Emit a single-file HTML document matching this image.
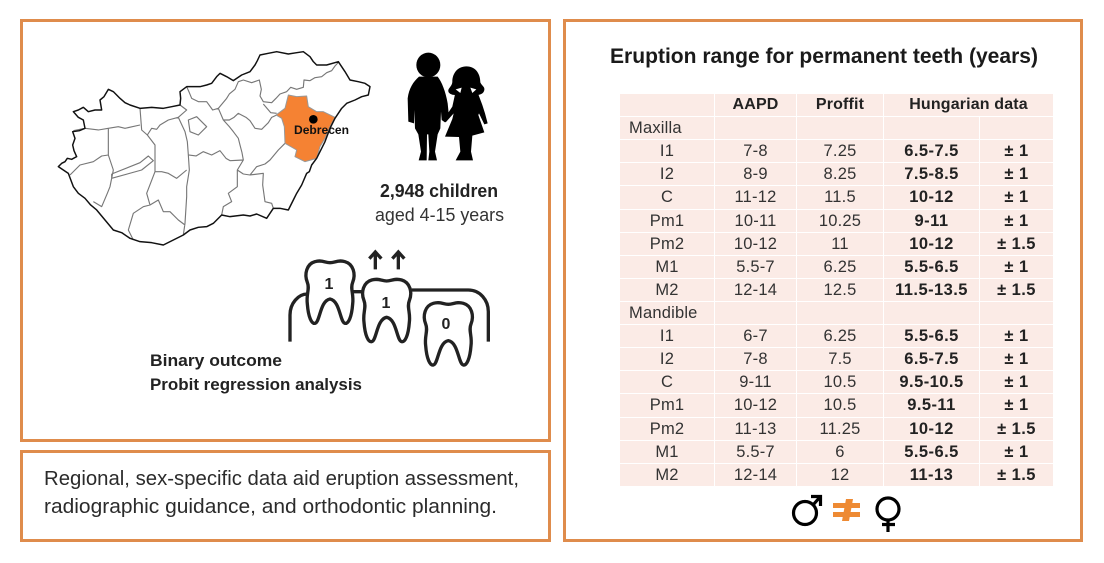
<!DOCTYPE html>
<html lang="en">
<head>
<meta charset="utf-8">
<title>Eruption range for permanent teeth</title>
<style>
html,body{margin:0;padding:0;background:#fff;}
body{width:1104px;height:563px;position:relative;overflow:hidden;font-family:"Liberation Sans",sans-serif;color:#2b2b2b;}
.panel{position:absolute;box-sizing:border-box;border:3px solid #DF8C4C;background:#fff;}
svg{position:absolute;left:0;top:0;}
table{position:absolute;left:619px;top:93px;width:434px;height:394px;border-collapse:collapse;table-layout:fixed;font-size:16.5px;letter-spacing:.2px;color:#333;}
td{background:#FBEBE6;border:1.5px solid #fff;padding:0;text-align:center;line-height:16px;overflow:hidden;white-space:nowrap;}
td.b{font-weight:bold;color:#222;letter-spacing:.45px;}
td.l{text-align:left;padding-left:9px;}
tr:first-child td{font-size:16px;font-weight:bold;color:#222;letter-spacing:.15px;}
</style>
</head>
<body>
<div class="panel" style="left:20px;top:19px;width:531px;height:423px"></div>
<div class="panel" style="left:20px;top:450px;width:531px;height:92px"></div>
<div class="panel" style="left:563px;top:19px;width:520px;height:523px"></div>

<svg width="1104" height="563" viewBox="0 0 1104 563">
  <g transform="translate(30,30) scale(.33333)" fill="none" stroke-linejoin="round">
    <path stroke="#777" stroke-width="3.4" d="M770,185 L782,172 L800,178 L820,172 L822,150 L840,152 L855,143 L875,140 L890,128 L905,122 L915,108 L925,97 M770,185 L750,192 L738,205 L725,218 L700,215 L690,198 L694,178 L688,150 L665,158 L640,150 L625,155 L615,178 L598,192 L590,205 L565,235 L548,240 L530,215 L505,215 L485,205 L478,188 L470,170 M740,250 L722,248 L700,222 M740,255 L725,262 L715,278 L695,298 L675,295 L660,272 L648,262 L625,250 L612,262 L598,270 L580,270 L565,235 M580,270 L598,290 L610,305 L625,325 L630,345 L636,368 L640,390 L622,420 L640,432 L660,435 L680,410 L705,402 L720,390 L745,360 L765,340 M660,435 L700,430 L698,465 L705,515 L725,520 L730,535 M622,420 L622,470 L595,490 L605,515 L580,530 L575,555 M475,375 L498,378 L520,365 L545,375 L570,362 L588,385 L600,392 L640,390 M450,225 L470,240 L445,262 L465,305 L472,335 L475,375 L478,420 L470,470 L470,500 L465,580 L460,615 M330,235 L335,300 L352,315 L365,295 L380,298 L390,285 L415,270 L445,262 M352,315 L375,345 L375,425 L395,425 L415,430 L440,445 L470,420 M130,302 L165,295 L205,300 L235,295 L265,290 L285,295 L330,285 M235,295 L235,340 L235,375 L250,420 L240,470 L232,490 L215,530 L190,515 M235,375 L215,378 L190,395 L150,405 L120,435 M375,425 L350,490 L360,525 L340,530 L310,550 L295,600 L310,630 M360,525 L385,510 L400,545 L420,545 L445,570 L465,585 M245,432 L330,398 L355,378 L370,392 L335,420 L245,445 L245,432 M475,270 L500,260 L530,290 L505,315 L480,305 Z"/>
    <path fill="#F58233" stroke="#999" stroke-width="3" d="M775,195 L800,200 L830,198 L835,230 L860,245 L880,245 L915,262 L900,290 L885,325 L870,350 L860,385 L825,395 L795,380 L800,360 L765,340 L763,290 L755,265 L738,255 L765,235 Z"/>
    <path stroke="#111" stroke-width="4.4" d="M85,410 L95,400 L105,395 L112,385 L125,388 L140,380 L132,362 L128,345 L135,325 L128,305 L148,302 L165,295 L160,270 L145,262 L130,245 L145,240 L160,232 L175,245 L195,240 L215,240 L210,210 L222,200 L235,178 L250,185 L270,205 L285,218 L300,225 L330,235 L365,232 L400,235 L425,230 L450,225 L452,205 L450,185 L470,170 L510,170 L530,165 L545,160 L560,140 L570,130 L590,140 L610,152 L635,135 L660,125 L675,105 L682,92 L690,75 L715,70 L740,65 L775,72 L800,68 L820,65 L840,80 L850,95 L860,105 L890,105 L925,95 L935,110 L945,125 L960,150 L985,155 L1005,160 L1020,170 L1015,195 L995,200 L975,210 L950,220 L935,235 L915,265 L900,295 L885,335 L860,385 L845,405 L838,425 L830,430 L815,465 L800,490 L790,510 L775,540 L750,535 L730,535 L710,565 L680,552 L660,558 L640,555 L600,560 L575,555 L550,580 L530,590 L505,592 L480,600 L460,615 L430,630 L400,645 L365,638 L330,635 L300,625 L275,608 L250,600 L225,570 L200,540 L182,525 L165,505 L145,490 L130,470 L115,430 Z"/>
    <circle cx="850" cy="268" r="13" fill="#000"/>
  </g>
  <text x="294" y="134" font-size="12" font-weight="bold" fill="#111" textLength="55" lengthAdjust="spacingAndGlyphs">Debrecen</text>

  <g transform="translate(395,45) scale(.33333)" fill="#000">
    <ellipse cx="100" cy="60" rx="36" ry="37"/>
    <path d="M72,95 C55,110 42,130 38,160 L40,230 L57,235 L58,195 L60,250 L70,268 L78,320 L71,346 L95,346 L96,268 L100,268 L103,320 L100,346 L126,346 L120,320 L128,268 L136,250 L138,200 L140,225 L150,232 L162,215 L158,175 C152,140 140,110 128,95 Z"/>
    <path d="M214,64 C245,64 256,90 256,112 C260,122 270,125 268,135 C266,146 255,150 245,150 L180,150 C170,150 158,145 160,135 C162,128 172,122 172,110 C172,85 188,64 214,64 Z"/>
    <path d="M180,148 L250,148 L262,180 L270,205 L278,235 L268,238 L252,205 L250,210 L268,262 L232,272 L228,320 L234,346 L182,346 L196,320 L192,276 L150,275 L172,222 L176,205 L152,232 L146,224 L172,185 Z"/>
    <path fill="#fff" d="M182,133 L200,128 L196,144 Z M244,133 L226,128 L232,144 Z"/>
  </g>

  <text x="380" y="197" font-size="18" font-weight="bold" fill="#222" textLength="118" lengthAdjust="spacingAndGlyphs">2,948 children</text>
  <text x="375" y="221" font-size="18" fill="#333" textLength="129" lengthAdjust="spacingAndGlyphs">aged 4-15 years</text>

  <g transform="translate(270,40) scale(.33333)">
    <path fill="none" stroke="#222" stroke-width="10" d="M60,905 L60,825 C60,790 85,762 112,762 M250,755 L278,755 M425,750 L595,750 C630,750 655,780 655,815 L655,905"/>
    <g fill="#fff" stroke="#222" stroke-width="10">
      <path transform="translate(180,662)" d="M-45,3 C-25,-3 -15,6 0,6 C15,6 25,-3 45,3 C70,10 78,40 68,65 C60,85 72,100 68,130 C65,170 55,190 45,188 C30,185 30,120 0,115 C-30,120 -30,185 -45,188 C-55,190 -65,170 -68,130 C-72,100 -60,85 -68,65 C-78,40 -70,10 -45,3 Z"/>
      <path transform="translate(350,717)" d="M-45,3 C-25,-3 -15,6 0,6 C15,6 25,-3 45,3 C70,10 78,40 68,65 C60,85 72,100 68,130 C65,170 55,190 45,188 C30,185 30,120 0,115 C-30,120 -30,185 -45,188 C-55,190 -65,170 -68,130 C-72,100 -60,85 -68,65 C-78,40 -70,10 -45,3 Z"/>
      <path transform="translate(535,787)" d="M-45,3 C-25,-3 -15,6 0,6 C15,6 25,-3 45,3 C70,10 78,40 68,65 C60,85 72,100 68,130 C65,170 55,190 45,188 C30,185 30,120 0,115 C-30,120 -30,185 -45,188 C-55,190 -65,170 -68,130 C-72,100 -60,85 -68,65 C-78,40 -70,10 -45,3 Z"/>
    </g>
    <path fill="none" stroke="#222" stroke-width="10" d="M316,688 L316,638 M298,656 L316,636 L334,656 M385,688 L385,638 M367,656 L385,636 L403,656"/>
  </g>
  <g font-size="16" font-weight="bold" fill="#222" text-anchor="middle">
    <text x="329" y="289">1</text>
    <text x="386" y="308">1</text>
    <text x="446" y="329">0</text>
  </g>
  <text x="150" y="366" font-size="17" font-weight="bold" fill="#222" textLength="132" lengthAdjust="spacingAndGlyphs">Binary outcome</text>
  <text x="150" y="390" font-size="17" font-weight="bold" fill="#222" textLength="212" lengthAdjust="spacingAndGlyphs">Probit regression analysis</text>

  <text x="44" y="485" font-size="20" fill="#2b2b2b" textLength="475" lengthAdjust="spacingAndGlyphs">Regional, sex-specific data aid eruption assessment,</text>
  <text x="44" y="513" font-size="20" fill="#2b2b2b" textLength="453" lengthAdjust="spacingAndGlyphs">radiographic guidance, and orthodontic planning.</text>

  <text x="610" y="63" font-size="21" font-weight="bold" fill="#1a1a1a" textLength="428" lengthAdjust="spacingAndGlyphs">Eruption range for permanent teeth (years)</text>

  <g fill="none" stroke="#000" stroke-width="3.2">
    <circle cx="805" cy="513" r="11.5"/>
    <path d="M813,505 L820,497 M811,496.5 L820.5,496.5 L820.5,506"/>
  </g>
  <g fill="#EE8A33">
    <rect x="833" y="503" width="27" height="5"/>
    <rect x="833" y="512" width="27" height="5"/>
    <path d="M846,499 L853,499 L849,521 L842,521 Z"/>
  </g>
  <g fill="none" stroke="#000" stroke-width="3.2">
    <circle cx="888" cy="509" r="11"/>
    <path d="M888,520 L888,532 M882,524.5 L895,524.5"/>
  </g>
</svg>

<table>
<colgroup><col style="width:95px"><col style="width:82px"><col style="width:87px"><col style="width:96px"><col style="width:74px"></colgroup>
<tr><td></td><td>AAPD</td><td>Proffit</td><td colspan="2">Hungarian data</td></tr>
<tr><td class="l">Maxilla</td><td></td><td></td><td></td><td></td></tr>
<tr><td>I1</td><td>7-8</td><td>7.25</td><td class="b">6.5-7.5</td><td class="b">± 1</td></tr>
<tr><td>I2</td><td>8-9</td><td>8.25</td><td class="b">7.5-8.5</td><td class="b">± 1</td></tr>
<tr><td>C</td><td>11-12</td><td>11.5</td><td class="b">10-12</td><td class="b">± 1</td></tr>
<tr><td>Pm1</td><td>10-11</td><td>10.25</td><td class="b">9-11</td><td class="b">± 1</td></tr>
<tr><td>Pm2</td><td>10-12</td><td>11</td><td class="b">10-12</td><td class="b">± 1.5</td></tr>
<tr><td>M1</td><td>5.5-7</td><td>6.25</td><td class="b">5.5-6.5</td><td class="b">± 1</td></tr>
<tr><td>M2</td><td>12-14</td><td>12.5</td><td class="b">11.5-13.5</td><td class="b">± 1.5</td></tr>
<tr><td class="l">Mandible</td><td></td><td></td><td></td><td></td></tr>
<tr><td>I1</td><td>6-7</td><td>6.25</td><td class="b">5.5-6.5</td><td class="b">± 1</td></tr>
<tr><td>I2</td><td>7-8</td><td>7.5</td><td class="b">6.5-7.5</td><td class="b">± 1</td></tr>
<tr><td>C</td><td>9-11</td><td>10.5</td><td class="b">9.5-10.5</td><td class="b">± 1</td></tr>
<tr><td>Pm1</td><td>10-12</td><td>10.5</td><td class="b">9.5-11</td><td class="b">± 1</td></tr>
<tr><td>Pm2</td><td>11-13</td><td>11.25</td><td class="b">10-12</td><td class="b">± 1.5</td></tr>
<tr><td>M1</td><td>5.5-7</td><td>6</td><td class="b">5.5-6.5</td><td class="b">± 1</td></tr>
<tr><td>M2</td><td>12-14</td><td>12</td><td class="b">11-13</td><td class="b">± 1.5</td></tr>
</table>
</body>
</html>
